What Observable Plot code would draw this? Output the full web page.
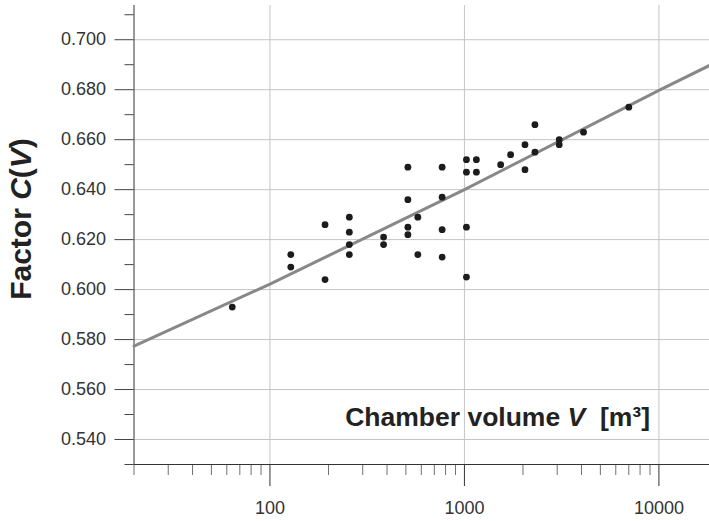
<!DOCTYPE html>
<html>
<head>
<meta charset="utf-8">
<script src="https://cdn.jsdelivr.net/npm/d3@7"></script>
<script src="https://cdn.jsdelivr.net/npm/@observablehq/plot@0.6"></script>
<style>
  html, body { margin: 0; padding: 0; background: #fff; }
</style>
</head>
<body>
<div id="chart"></div>
<script>
// Measured data: chamber volume V [m³] and factor C(V)
const volumes = [64, 128, 128, 192, 192, 256, 256, 256, 256, 384, 384,
  512, 512, 512, 512, 576, 576, 768, 768, 768, 768,
  1024, 1024, 1024, 1024, 1152, 1152, 1536, 1728, 2048, 2048,
  2304, 2304, 3072, 3072, 4096, 7000];
const factors = [0.593, 0.614, 0.609, 0.626, 0.604, 0.629, 0.623, 0.618, 0.614, 0.621, 0.618,
  0.649, 0.636, 0.625, 0.622, 0.629, 0.614, 0.649, 0.637, 0.624, 0.613,
  0.652, 0.647, 0.625, 0.605, 0.652, 0.647, 0.650, 0.654, 0.658, 0.648,
  0.666, 0.655, 0.660, 0.658, 0.663, 0.673];

// Fitted curve
const fitVolumes = [20, 100, 1000, 10000, 18200];
const fitFactors = [0.5774, 0.6022, 0.6400, 0.6797, 0.6897];

// Tick values
const xMajorTicks = [100, 1000, 10000];
const xMinorTicks = [20, 30, 40, 50, 60, 70, 80, 90, 200, 300, 400, 500, 600, 700, 800, 900,
  2000, 3000, 4000, 5000, 6000, 7000, 8000, 9000];
const yMajorTicks = [0.54, 0.56, 0.58, 0.60, 0.62, 0.64, 0.66, 0.68, 0.70];
const yMinorTicks = [0.53, 0.55, 0.57, 0.59, 0.61, 0.63, 0.65, 0.67, 0.69, 0.71];

const points = volumes.map((v, i) => ({v, c: factors[i]}));
const fit = fitVolumes.map((v, i) => ({v, c: fitFactors[i]}));

const chart = Plot.plot({
  width: 709,
  height: 521,
  marginLeft: 133.5,
  marginRight: 0,
  marginTop: 5,
  marginBottom: 57,
  style: {fontFamily: "'Liberation Sans', Arial, Helvetica, sans-serif", fontSize: "18px", color: "#333", background: "#fff"},
  x: {type: "log", domain: [20, 18200]},
  y: {domain: [0.530, 0.7137]},
  marks: [
    Plot.gridY(yMajorTicks, {stroke: "#c4c4c4", strokeOpacity: 1}),
    Plot.gridX(xMajorTicks, {stroke: "#c4c4c4", strokeOpacity: 1}),
    Plot.axisY(yMajorTicks, {anchor: "left", tickSize: 19, tickPadding: 9, tickFormat: d => d.toFixed(3), label: null, stroke: "#444", fill: "#333"}),
    Plot.axisY(yMinorTicks, {anchor: "left", tickSize: 9, tickFormat: () => "", label: null, stroke: "#444"}),
    Plot.axisX(xMajorTicks, {anchor: "bottom", tickSize: 22, tickPadding: 15, tickFormat: d => String(d), label: null, stroke: "#333", fill: "#333"}),
    Plot.axisX(xMinorTicks, {anchor: "bottom", tickSize: 11, tickFormat: () => "", label: null, stroke: "#707070"}),
    Plot.ruleX([20], {stroke: "#333"}),
    Plot.ruleY([0.530], {stroke: "#333"}),
    Plot.line(fit, {x: "v", y: "c", stroke: "#888", strokeWidth: 3}),
    Plot.dot(points, {x: "v", y: "c", r: 3.4, fill: "#1c1c1c", stroke: "none"})
  ]
});

const svg = d3.select(chart);
// Y-axis title
const yt = svg.append("text")
  .attr("transform", "translate(31,219) rotate(-90)")
  .attr("text-anchor", "middle")
  .attr("font-size", 30)
  .attr("font-weight", "bold")
  .attr("fill", "#222");
yt.append("tspan").text("Factor ");
yt.append("tspan").attr("font-style", "italic").text("C");
yt.append("tspan").text("(");
yt.append("tspan").attr("font-style", "italic").text("V");
yt.append("tspan").text(")");

// X-axis title inside plot
const xt = svg.append("text")
  .attr("x", 650)
  .attr("y", 426)
  .attr("text-anchor", "end")
  .attr("font-size", 26.5)
  .attr("font-weight", "bold")
  .attr("fill", "#222")
  .attr("xml:space", "preserve")
  .style("white-space", "pre");
xt.append("tspan").text("Chamber volume ");
xt.append("tspan").attr("font-style", "italic").text("V");
xt.append("tspan").text("  [m³]");

document.getElementById("chart").appendChild(chart);
</script>
</body>
</html>
